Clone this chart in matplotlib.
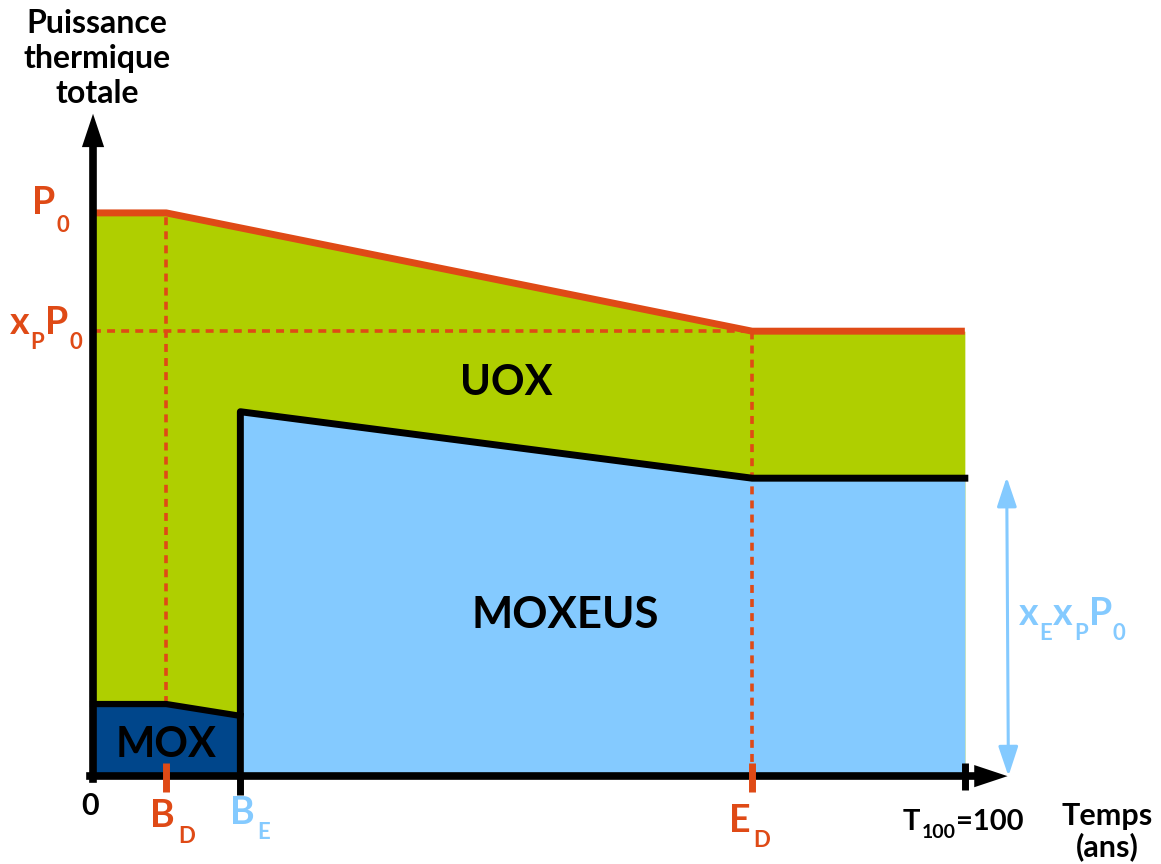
import matplotlib.pyplot as plt
from matplotlib.transforms import IdentityTransform

plt.rcParams['font.family'] = ['Lato', 'DejaVu Sans']
plt.rcParams['font.weight'] = 'bold'

# temps caracteristiques (ans)
B_D = 8.4
B_E = 16.9
E_D = 75.6
T100 = 100

# puissance thermique totale (en unites de P0)
t_top = [0, B_D, E_D, T100]
p_top = [1.0, 1.0, 0.79, 0.79]
x_P = 0.79

# MOX
t_mox = [0, B_D, B_E]
p_mox = [0.128, 0.128, 0.107]

# MOXEUS
t_moxeus = [B_E, E_D, T100]
p_moxeus = [0.647, 0.529, 0.529]

orange = '#DF4A16'
vert = '#AFCF00'
bleu_clair = '#84CAFF'
bleu_fonce = '#00468B'

fig = plt.figure(figsize=(11.61, 8.64), dpi=100)
ax = fig.add_axes([0, 0, 1, 1])
ax.set_xlim(-10.67, 122.5)
ax.set_ylim(-0.156, 1.378)
ax.axis('off')
renderer = fig.canvas.get_renderer()


def label(x, y, parts, color='black', size=27, sub_size=15, drop=16, gap=1, ha='left'):
    # texte avec indices, ancre sur la ligne de base
    x0, y0 = ax.transData.transform((x, y))
    texts = []
    cur = 0
    for s, sub in parts:
        t = ax.text(0, 0, s, fontsize=sub_size if sub else size, color=color,
                    ha='left', va='baseline', transform=IdentityTransform(), zorder=8)
        w = t.get_window_extent(renderer).width
        texts.append((t, cur, sub))
        cur += w + gap
    total = cur - gap
    shift = {'left': 0, 'center': -total / 2, 'right': -total}[ha]
    for t, off, sub in texts:
        t.set_position((x0 + shift + off, y0 - (drop if sub else 0)))


# zones
ax.fill_between(t_top, 0, p_top, color=vert, lw=0, zorder=1)
ax.fill_between(t_mox, 0, p_mox, color=bleu_fonce, lw=0, zorder=2)
ax.fill_between(t_moxeus, 0, p_moxeus, color=bleu_clair, lw=0, zorder=2)

# pointilles
dash = (0, (2.2, 1.7))
ax.plot([B_D, B_D], [p_mox[1], p_top[1]], color=orange, ls=dash, lw=2.6, zorder=3)
ax.plot([E_D, E_D], [0, x_P], color=orange, ls=dash, lw=2.6, zorder=3)
ax.plot([0, E_D], [x_P, x_P], color=orange, ls=dash, lw=2.6, zorder=3)

# contours
ax.plot(t_top, p_top, color=orange, lw=5, solid_capstyle='butt', zorder=4)
ax.plot(t_mox, p_mox, color='black', lw=4.5, zorder=4)
ax.plot([B_E] + t_moxeus, [0] + p_moxeus, color='black', lw=5, zorder=4)

# axes
ax.plot([0, 0], [-0.005, 1.12], color='black', lw=5.5, zorder=5)
ax.plot([-0.3, 101], [0, 0], color='black', lw=5.5, zorder=5)
head = '-|>,head_length=0.6,head_width=0.2'
ax.annotate('', xy=(0, 1.176), xytext=(0, 1.10),
            arrowprops=dict(arrowstyle=head, color='black', lw=0, mutation_scale=40,
                            shrinkA=0, shrinkB=0), zorder=6)
ax.annotate('', xy=(104.9, 0), xytext=(100.5, 0),
            arrowprops=dict(arrowstyle=head, color='black', lw=0, mutation_scale=40,
                            shrinkA=0, shrinkB=0), zorder=6)

# graduations
ax.plot([B_D, B_D], [0.023, -0.028], color=orange, lw=5, solid_capstyle='butt', zorder=6)
ax.plot([E_D, E_D], [0.023, -0.028], color=orange, lw=5, solid_capstyle='butt', zorder=6)
ax.plot([B_E, B_E], [0, -0.034], color='black', lw=5, solid_capstyle='butt', zorder=6)
ax.plot([T100, T100], [0.023, -0.025], color='black', lw=5, solid_capstyle='butt', zorder=6)

# double fleche
ax.annotate('', xy=(104.8, 0.531), xytext=(105.0, 0.0),
            arrowprops=dict(arrowstyle='<|-|>,head_length=0.6,head_width=0.2', color=bleu_clair,
                            lw=2.2, mutation_scale=30, shrinkA=0, shrinkB=0), zorder=6)

# textes
for txt, yb in zip(['Puissance', 'thermique', 'totale'], [1.320, 1.258, 1.196]):
    ax.text(0.46, yb, txt, ha='center', va='baseline', fontsize=23)
ax.text(47.4, 0.677, 'UOX', ha='center', va='baseline', fontsize=30)
ax.text(54.2, 0.263, 'MOXEUS', ha='center', va='baseline', fontsize=31.5)
ax.text(8.37, 0.034, 'MOX', ha='center', va='baseline', fontsize=30)
ax.text(-0.34, -0.069, '0', ha='center', va='baseline', fontsize=22)

label(-7.0, 0.998, [('P', False), ('0', True)], color=orange, size=27, sub_size=16, drop=18)
label(-9.52, 0.785, [('x', False), ('P', True), ('P', False), ('0', True)],
      color=orange, size=27, sub_size=16, drop=15)
label(106.2, 0.268, [('x', False), ('E', True), ('x', False), ('P', True), ('P', False), ('0', True)],
      color=bleu_clair, size=27, sub_size=16, drop=15)
label(6.54, -0.0906, [('B', False), ('D', True)], color=orange, size=27, sub_size=16, drop=16, gap=3)
label(15.7, -0.085, [('B', False), ('E', True)], color=bleu_clair, size=27, sub_size=16, drop=15, gap=3)
label(72.9, -0.0995, [('E', False), ('D', True)], color=orange, size=27, sub_size=16, drop=15, gap=3)
label(92.9, -0.096, [('T', False), ('100', True), ('=100', False)], size=21, sub_size=14, drop=8)

ax.text(116.3, -0.087, 'Temps', ha='center', va='baseline', fontsize=22)
ax.text(116.3, -0.142, '(ans)', ha='center', va='baseline', fontsize=22)

fig.savefig('out.png', dpi=100)
